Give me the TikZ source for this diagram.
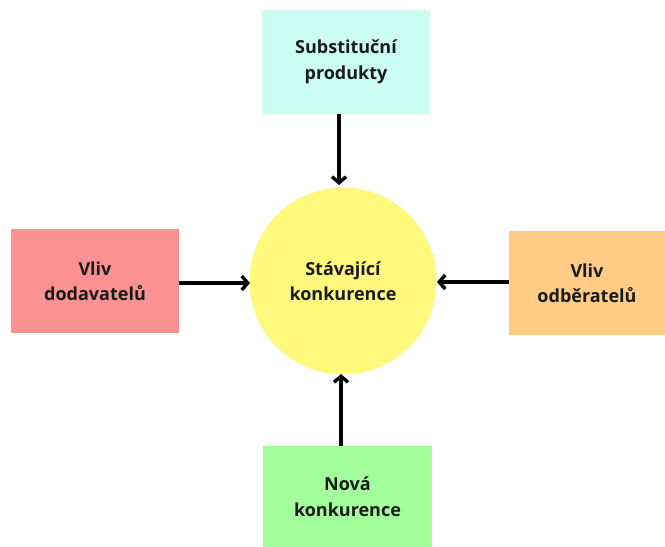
\documentclass[tikz,border=0pt]{standalone}
\usepackage{fontspec}
\setmainfont{Open Sans}[UprightFont=* Bold]
\usetikzlibrary{arrows.meta}
\definecolor{cyanbox}{HTML}{CCFDF2}
\definecolor{redbox}{HTML}{FA9292}
\definecolor{orangebox}{HTML}{FFCB85}
\definecolor{greenbox}{HTML}{A2FF9C}
\definecolor{yellowc}{HTML}{FFF97E}
\definecolor{txt}{HTML}{1A1A1A}
\begin{document}
\begin{tikzpicture}[x=1pt,y=-1pt,
  box/.style={draw=none,rectangle,inner sep=0pt,align=center,font=\fontsize{18}{25.5}\selectfont,text=txt},
  conn/.style={line width=3.6pt,-{Straight Barb[length=6pt,width=14pt,line width=3.4pt]}}]
\useasboundingbox (0,0) rectangle (665,547);
\fill[white] (0,0) rectangle (665,547);
\node[box,fill=cyanbox,minimum width=168pt,minimum height=104pt] (top) at (346,62) {Substituční\\produkty};
\node[box,fill=redbox,minimum width=168pt,minimum height=104pt] (left) at (95,281) {Vliv\\dodavatelů};
\node[box,fill=orangebox,minimum width=156pt,minimum height=104pt] (right) at (587,283) {Vliv\\odběratelů};
\node[box,fill=greenbox,minimum width=169pt,minimum height=101pt] (bottom) at (347.5,496.5) {Nová\\konkurence};
\node[box,circle,fill=yellowc,minimum size=187pt] (center) at (343,281) {Stávající\\konkurence};
\draw[conn] (top.south -| 339,0) -- (339,185);
\draw[conn] (left.east |- 0,283) -- (250,283);
\draw[conn] (right.west |- 0,282) -- (437,282);
\draw[conn] (bottom.north -| 341,0) -- (341,374);
\end{tikzpicture}
\end{document}
